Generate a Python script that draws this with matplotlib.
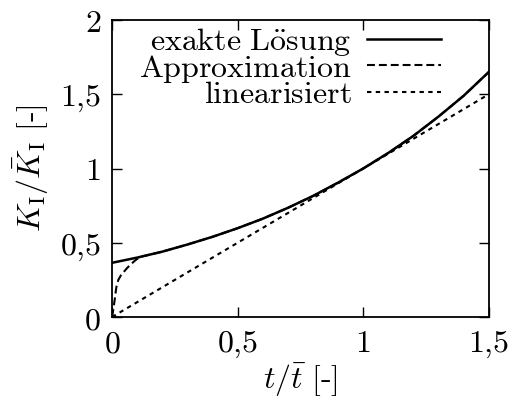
import matplotlib

matplotlib.use("Agg")
import matplotlib.pyplot as plt

plt.rcParams["mathtext.fontset"] = "cm"
plt.rcParams["font.family"] = ["DejaVu Serif"]

# exact solution K_I / K_I_bar over t / t_bar
t_exact = [0.0, 0.1, 0.2, 0.3, 0.4, 0.5, 0.6, 0.7, 0.8, 0.9, 1.0, 1.1, 1.2, 1.3, 1.4, 1.5]
k_exact = [0.365, 0.40, 0.44, 0.488, 0.54, 0.598, 0.662, 0.735, 0.815, 0.905, 1.0, 1.105, 1.22, 1.35, 1.49, 1.65]

# approximation: starts at zero, joins the exact curve near t = 0.1
t_approx = [0.0, 0.004, 0.01, 0.017, 0.025, 0.035, 0.045, 0.06, 0.075, 0.09, 0.11, 0.2, 0.3, 0.4, 0.5, 0.6,
            0.7, 0.8, 0.9, 1.0, 1.1, 1.2, 1.3, 1.4, 1.5]
k_approx = [0.0, 0.04, 0.11, 0.2, 0.25, 0.28, 0.30, 0.33, 0.355, 0.378, 0.404, 0.44, 0.488, 0.54, 0.598, 0.662,
            0.735, 0.815, 0.905, 1.0, 1.105, 1.22, 1.35, 1.49, 1.65]

# linearised solution
t_lin = [0.0, 1.5]
k_lin = [0.0, 1.5]

x_ticks = [0, 0.5, 1, 1.5]
x_labels = [r"$0$", r"$0{,}5$", r"$1$", r"$1{,}5$"]
y_ticks = [0, 0.5, 1, 1.5, 2]
y_labels = [r"$0$", r"$0{,}5$", r"$1$", r"$1{,}5$", r"$2$"]

FS = 23

fig = plt.figure(figsize=(5.14, 4.0), dpi=100)
ax = fig.add_axes([0.218, 0.2075, 0.733, 0.7425])

ax.plot(t_exact, k_exact, color="black", linewidth=1.8, label=r"$\mathrm{exakte\ L\ddot{o}sung}$", zorder=4)
ax.plot(t_approx, k_approx, color="black", linewidth=1.5, linestyle=(0, (3.8, 1.9)),
        label=r"$\mathrm{Approximation}$", zorder=3)
ax.plot(t_lin, k_lin, color="black", linewidth=1.5, linestyle=(0, (2.1, 2.1)),
        label=r"$\mathrm{linearisiert}$", zorder=2)

ax.set_xlim(0, 1.5)
ax.set_ylim(0, 2)
ax.set_xticks(x_ticks)
ax.set_xticklabels(x_labels)
ax.set_yticks(y_ticks)
ax.set_yticklabels(y_labels)
ax.tick_params(direction="in", length=7, width=1.0, top=True, right=True, labelsize=FS, pad=8)
for spine in ax.spines.values():
    spine.set_linewidth(1.3)

ax.set_xlabel(r"$t/\bar{t}\ \mathrm{[\text{-}]}$", fontsize=FS, labelpad=2)
ax.set_ylabel(r"$K_\mathrm{I}/\bar{K}_\mathrm{I}\ \mathrm{[\text{-}]}$", fontsize=FS, labelpad=6)

ax.legend(loc="upper right", frameon=False, markerfirst=False, fontsize=FS, handlelength=2.3,
          handletextpad=0.5, labelspacing=-0.17, borderpad=0, borderaxespad=0,
          bbox_to_anchor=(0.873, 0.98))

fig.savefig("out.png", dpi=100)
